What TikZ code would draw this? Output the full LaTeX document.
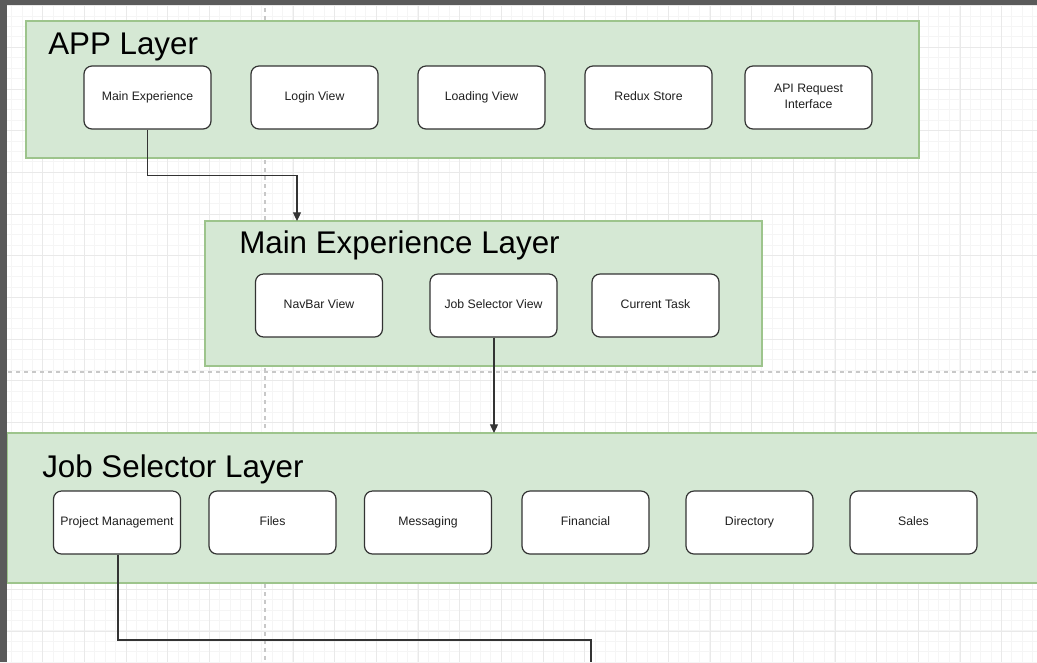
\documentclass[tikz,border=0pt]{standalone}
\usepackage{fontspec}
\setmainfont{Liberation Sans}
\usetikzlibrary{arrows.meta}
\definecolor{layerfill}{HTML}{D5E8D4}
\definecolor{layerline}{HTML}{9DC48C}
\definecolor{edge}{HTML}{333333}
\definecolor{frame}{HTML}{5A5A5A}
\definecolor{gridminor}{HTML}{F5F5F5}
\definecolor{gridmajor}{HTML}{E9E9E9}
\definecolor{pageline}{HTML}{C8C8C8}
\tikzset{
  layer/.style={draw=layerline, fill=layerfill, line width=0.9pt},
  layertitle/.style={anchor=base west, font=\fontsize{23.5}{26}\selectfont, text=black, inner sep=0pt},
  comp/.style={draw=edge, fill=white, rounded corners=6pt, line width=0.9pt,
    minimum width=95.25pt, minimum height=47.25pt, align=center,
    font=\fontsize{9.2}{12}\selectfont, text=black!88, inner sep=1pt,
    execute at begin node=\strut},
  twoline/.style={execute at begin node={}},
  link/.style={draw=edge, line width=0.8pt},
  arr/.style={link, -{Triangle[length=6.5pt,width=6pt]}}
}
\begin{document}
\begin{tikzpicture}[x=0.75pt,y=-0.75pt]
\useasboundingbox (0,0) rectangle (1037,662);
\fill[white] (0,0) rectangle (1037,662);
% grid
\foreach \i in {0,...,100} {
  \draw[gridminor, line width=0.5pt] ({1.0+10.42*\i},0) -- ({1.0+10.42*\i},662);
}
\foreach \i in {0,...,64} {
  \draw[gridminor, line width=0.5pt] (0,{5.5+10.42*\i}) -- (1037,{5.5+10.42*\i});
}
\foreach \i in {0,...,25} {
  \draw[gridmajor, line width=0.6pt] ({1.0+41.7*\i},0) -- ({1.0+41.7*\i},662);
}
\foreach \i in {0,...,16} {
  \draw[gridmajor, line width=0.6pt] (0,{5.5+41.7*\i}) -- (1037,{5.5+41.7*\i});
}
% page break lines
\draw[pageline, dashed, line width=0.8pt] (265,0) -- (265,662);
\draw[pageline, dashed, line width=0.8pt] (0,372) -- (1037,372);

% APP layer
\draw[layer] (26,21) rectangle (919,158);
\node[layertitle] (apptitle) at (48,54) {APP Layer};
\node[comp] (mainexp) at (147.5,97.5) {Main Experience};
\node[comp] (login) at (314.5,97.5) {Login View};
\node[comp] (loading) at (481.5,97.5) {Loading View};
\node[comp] (redux) at (648.5,97.5) {Redux Store};
\node[comp, twoline] (api) at (808.5,97.5) {\raisebox{-2.2pt}{API Request}\\\raisebox{-2.2pt}{Interface}};

% Main Experience layer
\draw[layer] (205,221) rectangle (762,366);
\coordinate (melayertop) at (297,221);
\node[layertitle] (metitle) at (239,253) {Main Experience Layer};
\node[comp] (navbar) at (319,305.5) {NavBar View};
\node[comp] (jobsel) at (493.5,305.5) {Job Selector View};
\node[comp] (curtask) at (655.5,305.5) {Current Task};

% Job Selector layer
\draw[layer] (7,433) rectangle (1040,583);
\coordinate (jslayertop) at (494,433);
\node[layertitle] (jstitle) at (42,477) {Job Selector Layer};
\node[comp] (pm) at (117,522.5) {Project Management};
\node[comp] (files) at (272.5,522.5) {Files};
\node[comp] (msg) at (428,522.5) {Messaging};
\node[comp] (fin) at (585.5,522.5) {Financial};
\node[comp] (dir) at (749.5,522.5) {Directory};
\node[comp] (sales) at (913.5,522.5) {Sales};

% connectors
\draw[arr] (mainexp.south) -- ++(0,46) -| (melayertop);
\draw[arr] (jobsel.south -| jslayertop) -- (jslayertop);
\coordinate (pmend) at (591,662);
\draw[link] (pm.south -| 118,0) |- (pmend |- 0,640) -- (pmend);

% dark frame
\fill[frame] (0,0) rectangle (7,662);
\fill[frame] (0,0) rectangle (1037,5);
\end{tikzpicture}
\end{document}
